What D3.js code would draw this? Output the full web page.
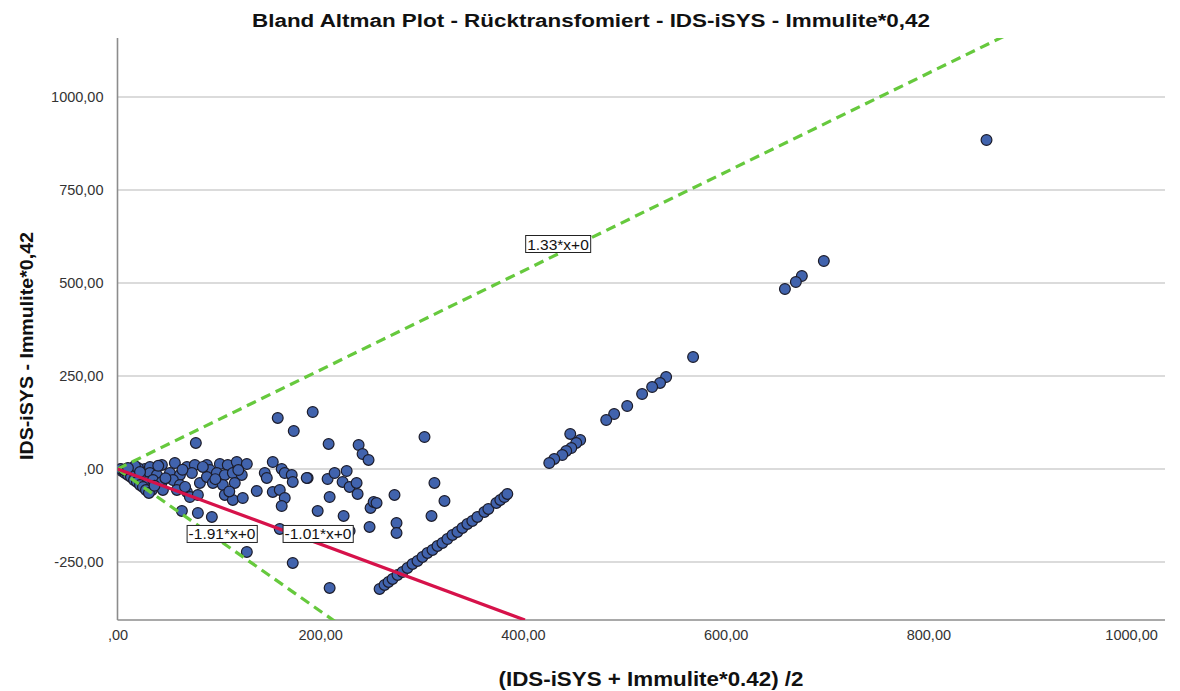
<!DOCTYPE html>
<html><head><meta charset="utf-8">
<script src="https://cdn.jsdelivr.net/npm/d3@7"></script>
<style>body{margin:0;background:#fff}svg{display:block}</style>
</head><body>
<svg id="c" width="1180" height="691"></svg>
<script>
// ---- data ----
const title = "Bland Altman Plot - Rücktransfomiert - IDS-iSYS - Immulite*0,42";
const xTitle = "(IDS-iSYS + Immulite*0.42) /2";
const yTitle = "IDS-iSYS - Immulite*0,42";
const xTicks = [0, 200, 400, 600, 800, 1000];
const yTicks = [-250, 0, 250, 500, 750, 1000];
const fitSlopes = [1.33, -1.91];      // green dashed reference lines
const fitLabels = ["1.33*x+0", "-1.91*x+0"];
const redSlope = -1.01;               // red regression line
const redLabel = "-1.01*x+0";
// mean values (x) and differences (y)
const meanVals = [
 857.4,696.9,675.2,669.3,658.5,567.9,541.3,535.3,527.5,517.6,502.9,490.0,482.2,456.5,452.6,446.7,447.7,442.7,438.8,430.9,426.0,
 258.6,263.5,267.4,271.4,276.3,281.2,286.1,291.1,296.0,300.9,305.8,310.8,315.7,320.6,325.5,330.5,335.4,340.3,345.2,350.1,355.1,362.0,365.9,373.8,377.7,381.7,384.6,
 302.9,312.7,322.6,309.8,158.1,192.6,173.9,77.3,208.3,237.9,241.8,247.7,153.2,162.0,165.0,171.9,172.9,145.3,147.3,137.4,153.2,160.1,165.0,162.0,187.6,207.3,214.2,226.1,222.1,229.0,235.9,236.9,209.3,197.5,223.1,249.7,252.7,255.6,248.7,229.0,160.1,172.9,209.3,127.6,93.1,79.3,63.5,273.3,275.3,275.3,
 27.1,32.0,43.8,56.6,68.5,76.3,88.2,101.0,108.8,117.7,127.6,186.7,25.1,32.0,38.9,51.7,61.6,73.4,91.1,98.0,105.9,113.8,122.6,29.1,35.0,43.8,54.7,61.6,81.3,88.2,94.1,103.9,115.7,34.0,44.8,58.6,68.5,71.4,79.3,105.9,113.8,123.6,
 4.4,7.4,10.3,13.3,16.3,19.2,22.2,25.1,28.1,31.0,3.4,6.4,14.3,20.2,17.2,22.2,10.3,
 36.5,47.3,64.1,84.2,96.5,119.2,40.2,66.7,110.3
];
const diffVals = [
 884.4,559.1,518.8,502.7,483.8,301.0,247.3,231.2,220.4,201.6,169.3,147.8,131.7,77.9,69.9,94.1,56.4,48.4,37.6,26.9,16.1,
 -322.6,-311.8,-303.7,-295.7,-284.9,-276.9,-266.1,-255.4,-247.3,-236.5,-225.8,-217.7,-207.0,-198.9,-188.2,-177.4,-169.3,-158.6,-147.8,-139.8,-129.0,-115.6,-107.5,-91.4,-83.3,-75.3,-67.2,
 86.0,-37.6,-86.0,-126.3,137.1,153.2,102.1,69.9,67.2,64.5,40.3,24.2,18.8,0,-10.8,-16.1,-34.9,-10.8,-24.2,-59.1,-61.8,-56.4,-78.0,-99.5,-24.2,-26.9,-10.8,-5.4,-34.9,-48.4,-37.6,-67.2,-75.3,-112.9,-126.3,-104.8,-88.7,-91.4,-155.9,-166.7,-161.3,-252.7,-319.9,-223.1,-129.0,-118.3,-112.9,-69.9,-145.2,-172.0,
 0,5.4,10.8,16.1,5.4,10.8,10.8,13.4,10.8,18.8,13.4,-24.2,-16.1,-10.8,-16.1,-10.8,-16.1,-10.8,-2.7,-10.8,-16.1,-10.8,-16.1,-34.9,-29.6,-34.9,-29.6,-43.0,-37.6,-21.5,-37.6,-43.0,-37.6,-56.4,-56.4,-56.4,-61.8,-75.3,-69.9,-69.9,-83.3,-78.0,
 -5.4,-10.8,-16.1,-21.5,-29.6,-34.9,-43.0,-48.4,-56.4,-64.5,0,-2.7,-2.7,2.7,8.1,-8.1,2.7,
 -45.1,-24.8,-2.1,5.6,-27.3,-2.9,8.6,-48.2,-60.4
];

// ---- layout ----
const svg = d3.select("#c");
const L = 117.5, R = 1165, T = 38, B = 620;
const x = d3.scaleLinear().domain([0, 1033.5]).range([L, R]);
const y = d3.scaleLinear().domain([-406, 1158.6]).range([B, T]);
const fmt = v => (v === 0 ? ",00" : (v < 0 ? "-" : "") + Math.abs(v).toFixed(2).replace(".", ","));
const font = "'Liberation Sans', Arial, sans-serif";

svg.append("defs").append("clipPath").attr("id","clip")
  .append("rect").attr("x",L).attr("y",T).attr("width",R-L).attr("height",B-T);

// gridlines
svg.append("g").selectAll("line").data(yTicks).join("line")
  .attr("x1", L).attr("x2", R).attr("y1", d=>y(d)).attr("y2", d=>y(d))
  .attr("stroke", "#cfcfcf").attr("stroke-width", 1.5);

// axes
const yAxis = svg.append("g").attr("transform", `translate(${L},0)`)
  .call(d3.axisLeft(y).tickValues(yTicks).tickFormat(fmt).tickSize(0).tickPadding(14));
const xAxis = svg.append("g").attr("transform", `translate(0,${B})`)
  .call(d3.axisBottom(x).tickValues(xTicks).tickFormat(fmt).tickSize(0).tickPadding(10));
[yAxis, xAxis].forEach(g => {
  g.select(".domain").attr("stroke", "#8c8c8c").attr("stroke-width", 1.6);
  g.selectAll("text").attr("font-family", font).attr("font-size", 14.5).attr("fill", "#333");
});
yAxis.select(".domain").attr("d", `M0,${T}V${B}`);
xAxis.select(".domain").attr("d", `M${L},0H${R}`);

// points
const pts = meanVals.map((m, i) => ({m, d: diffVals[i]}));
svg.append("g").attr("clip-path","url(#clip)").selectAll("circle").data(pts).join("circle")
  .attr("cx", p => x(p.m)).attr("cy", p => y(p.d)).attr("r", 5.4)
  .attr("fill", "#4163ad").attr("stroke", "#1c1c2a").attr("stroke-width", 1.2);

// reference lines
const lg = svg.append("g").attr("clip-path","url(#clip)");
const xMax = x.domain()[1];
fitSlopes.forEach(s => {
  lg.append("line").attr("x1", x(0)).attr("y1", y(0))
    .attr("x2", x(xMax)).attr("y2", y(s * xMax))
    .attr("stroke", "#66c93d").attr("stroke-width", 3.2).attr("stroke-dasharray", "10,6");
});
const redEnd = y.domain()[0] / redSlope;
lg.append("line").attr("x1", x(0)).attr("y1", y(0))
  .attr("x2", x(redEnd)).attr("y2", y(redSlope * redEnd))
  .attr("stroke", "#d6124a").attr("stroke-width", 3.2);

// line labels
function label(txt, cx, cy) {
  const g = svg.append("g");
  const t = g.append("text").attr("x", cx).attr("y", cy).attr("text-anchor","middle")
    .attr("dominant-baseline","central").attr("font-family", font).attr("font-size", 15.5).attr("fill","#111").text(txt);
  const bb = t.node().getBBox();
  g.insert("rect","text").attr("x", bb.x-1.5).attr("y", bb.y).attr("width", bb.width+3).attr("height", bb.height)
    .attr("fill","#fff").attr("stroke","#222").attr("stroke-width",1);
}
label(fitLabels[0], x(434.6), y(604.8));
label(fitLabels[1], x(103.1), y(-174.7));
label(redLabel, x(197.8), y(-174.7));

// titles
svg.append("text").attr("x", 591).attr("y", 27).attr("text-anchor","middle")
  .attr("font-family", font).attr("font-weight","bold").attr("font-size", 18).attr("fill","#111")
  .attr("textLength", 678).attr("lengthAdjust","spacingAndGlyphs").text(title);
svg.append("text").attr("x", 651).attr("y", 686).attr("text-anchor","middle")
  .attr("font-family", font).attr("font-weight","bold").attr("font-size", 20).attr("fill","#111")
  .attr("textLength", 305).attr("lengthAdjust","spacingAndGlyphs").text(xTitle);
svg.append("text").attr("transform","translate(33,346) rotate(-90)").attr("text-anchor","middle")
  .attr("font-family", font).attr("font-weight","bold").attr("font-size", 19).attr("fill","#111")
  .attr("textLength", 228).attr("lengthAdjust","spacingAndGlyphs").text(yTitle);
</script>
</body></html>
